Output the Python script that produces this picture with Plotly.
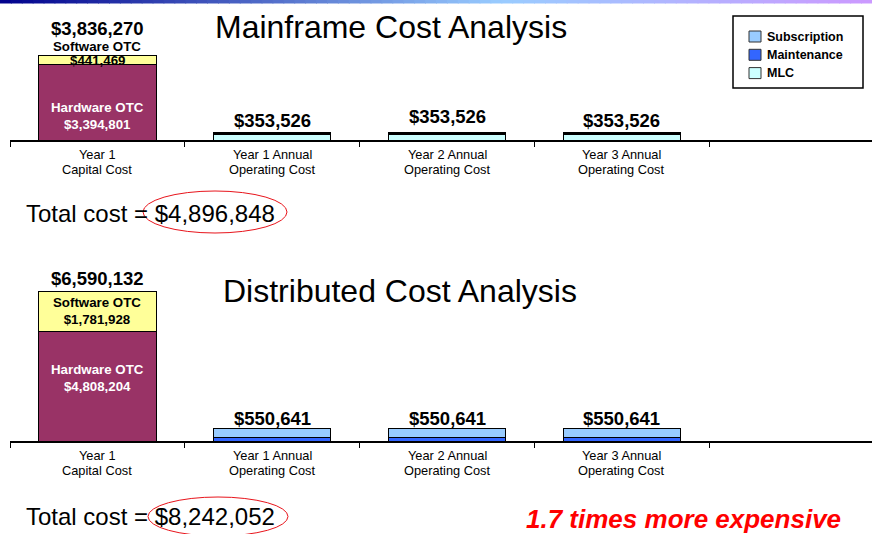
import plotly.graph_objects as go

W, H = 872, 534

# ---------------- data ----------------
categories = ["Year 1<br>Capital Cost", "Year 1 Annual<br>Operating Cost",
              "Year 2 Annual<br>Operating Cost", "Year 3 Annual<br>Operating Cost"]

mf_hardware = [3394801, None, None, None]
mf_software = [441469, None, None, None]
mf_mlc = [None, 240000, 240000, 240000]
mf_maintenance = [None, 55000, 55000, 55000]
mf_subscription = [None, 58526, 58526, 58526]

ds_hardware = [4808204, None, None, None]
ds_software = [1781928, None, None, None]
ds_maintenance = [None, 135000, 135000, 135000]
ds_subscription = [None, 415641, 415641, 415641]

total_costs = [4896848, 8242052]
titles = ["Mainframe Cost Analysis", "Distributed Cost Analysis"]
legend_labels = ["Subscription", "Maintenance", "MLC"]

C_HW = "#993366"
C_SW = "#FFFF99"
C_SUB = "#99CCFF"
C_MAINT = "#3366FF"
C_MLC = "#CCFFFF"
legend_colors = [C_SUB, C_MAINT, C_MLC]

FONT = "Liberation Sans, Arial, sans-serif"


def px(x):
    return x / W


def py(y):
    return 1 - y / H


def fmt(v):
    return "${:,.0f}".format(v)


def vsum(*arrs):
    out = []
    for vals in zip(*arrs):
        s = sum(v for v in vals if v is not None)
        out.append(s if s else None)
    return out


fig = go.Figure()

bar_line = dict(color="black", width=1)
BW = 0.67


def add_bar(y, name, color, xa, ya):
    fig.add_trace(go.Bar(
        x=categories, y=y, name=name, marker=dict(color=color, line=bar_line),
        width=BW, xaxis=xa, yaxis=ya, showlegend=False, hoverinfo="skip"))


# top (mainframe)
add_bar(mf_hardware, "Hardware OTC", C_HW, "x", "y")
add_bar(mf_software, "Software OTC", C_SW, "x", "y")
add_bar(mf_mlc, "MLC", C_MLC, "x", "y")
add_bar(mf_maintenance, "Maintenance", C_MAINT, "x", "y")
add_bar(mf_subscription, "Subscription", C_SUB, "x", "y")

# bottom (distributed)
add_bar(ds_hardware, "Hardware OTC", C_HW, "x2", "y2")
add_bar(ds_software, "Software OTC", C_SW, "x2", "y2")
add_bar(ds_maintenance, "Maintenance", C_MAINT, "x2", "y2")
add_bar(ds_subscription, "Subscription", C_SUB, "x2", "y2")

# axis geometry (pixels)
top_axis_px, top_top_px, top_scale = 140, 30, 85 / 3836270
bot_axis_px, bot_top_px, bot_scale = 441, 271, 150 / 6590132

xaxis_common = dict(
    type="category", range=[-0.5, 4.43], tickson="boundaries",
    ticks="outside", ticklen=5, tickwidth=1, tickcolor="black",
    showline=True, linecolor="black", linewidth=1.5, showgrid=False,
    showticklabels=False, fixedrange=True,
    domain=[px(10), 1],
)
yaxis_common = dict(visible=False, showgrid=False, zeroline=False, fixedrange=True)

fig.update_layout(
    xaxis=dict(xaxis_common, anchor="y"),
    yaxis=dict(yaxis_common, domain=[py(top_axis_px), py(top_top_px)],
               range=[0, (top_axis_px - top_top_px) / top_scale]),
    xaxis2=dict(xaxis_common, anchor="y2"),
    yaxis2=dict(yaxis_common, domain=[py(bot_axis_px), py(bot_top_px)],
                range=[0, (bot_axis_px - bot_top_px) / bot_scale]),
)

ann = []


def a(text, x, y, xref, yref, size, yshift=0, color="black", bold=True, italic=False,
      xanchor="center", yanchor="middle"):
    t = text
    if bold:
        t = "<b>%s</b>" % t
    if italic:
        t = "<i>%s</i>" % t
    ann.append(dict(text=t, x=x, y=y, xref=xref, yref=yref, showarrow=False,
                    yshift=yshift, xanchor=xanchor, yanchor=yanchor,
                    font=dict(family=FONT, size=size, color=color)))


# category labels (two tight lines, as in reference)
for xr, yr in (("x", "y"), ("x2", "y2")):
    for c in categories:
        l1, l2 = c.split("<br>")
        a(l1, c, 0, xr, yr, 12.8, yshift=-14.5, bold=False)
        a(l2, c, 0, xr, yr, 12.8, yshift=-29, bold=False)

BIG = 18.5
MID = 13.3

# mainframe labels
cap = categories[0]
mf_cap_total = mf_hardware[0] + mf_software[0]
a(fmt(mf_cap_total), cap, mf_cap_total, "x", "y", BIG, yshift=27)
a("Software OTC", cap, mf_cap_total, "x", "y", MID, yshift=8.5)
a(fmt(mf_software[0]), cap, mf_cap_total, "x", "y", MID, yshift=-5.5)
a("Hardware OTC<br>" + fmt(mf_hardware[0]), cap, mf_hardware[0], "x", "y", MID,
  yshift=-51, color="white")
mf_ops = vsum(mf_mlc, mf_maintenance, mf_subscription)
shifts = [12, 16, 12]
for i in range(1, 4):
    a(fmt(mf_ops[i]), categories[i], mf_ops[i], "x", "y", BIG, yshift=shifts[i - 1])

# distributed labels
ds_cap_total = ds_hardware[0] + ds_software[0]
a(fmt(ds_cap_total), cap, ds_cap_total, "x2", "y2", BIG, yshift=13)
a("Software OTC<br>" + fmt(ds_software[0]), cap, ds_hardware[0] + ds_software[0] / 2,
  "x2", "y2", MID)
a("Hardware OTC<br>" + fmt(ds_hardware[0]), cap, ds_hardware[0], "x2", "y2", MID,
  yshift=-46, color="white")
ds_ops = vsum(ds_maintenance, ds_subscription)
for i in range(1, 4):
    a(fmt(ds_ops[i]), categories[i], ds_ops[i], "x2", "y2", BIG, yshift=10)

# titles
a(titles[0], px(391), py(27), "paper", "paper", 32, bold=False)
a(titles[1], px(400), py(291), "paper", "paper", 32, bold=False)

# totals
a("Total cost = " + fmt(total_costs[0]), px(24), py(213), "paper", "paper", 24,
  bold=False, xanchor="left")
a("Total cost = " + fmt(total_costs[1]), px(24), py(516), "paper", "paper", 24,
  bold=False, xanchor="left")

ratio = total_costs[1] / total_costs[0]
a("%.1f times more expensive" % ratio, px(683), py(519), "paper", "paper", 26,
  color="#FF0000", bold=True, italic=True)

shapes = []
# ellipses
shapes.append(dict(type="circle", xref="paper", yref="paper", x0=px(143), x1=px(287),
                   y0=py(233), y1=py(191), line=dict(color="#E8141B", width=1)))
shapes.append(dict(type="circle", xref="paper", yref="paper", x0=px(148), x1=px(288),
                   y0=py(536), y1=py(497), line=dict(color="#E8141B", width=1)))

# manual legend box
shapes.append(dict(type="rect", xref="paper", yref="paper", x0=px(733), x1=px(863),
                   y0=py(88), y1=py(16), line=dict(color="black", width=1.5),
                   fillcolor="white"))
for k, (lab, col) in enumerate(zip(legend_labels, legend_colors)):
    yc = 36.5 + 18.3 * k
    shapes.append(dict(type="rect", xref="paper", yref="paper", x0=px(749), x1=px(761),
                       y0=py(yc + 5.5), y1=py(yc - 5.5),
                       line=dict(color="#333333", width=1), fillcolor=col))
    a(lab, px(765), py(yc), "paper", "paper", 12.5, xanchor="left")


# top gradient strip
def lerp(c1, c2, t):
    return tuple(round(c1[k] + (c2[k] - c1[k]) * t) for k in range(3))


c_left, c_mid, c_right = (0, 0, 140), (153, 204, 255), (204, 153, 255)
N = 80
for i in range(N):
    x0 = W * i / N
    x1 = W * (i + 1) / N
    xc = (x0 + x1) / 2
    if xc < 500:
        c = lerp(c_left, c_mid, xc / 500)
    else:
        c = lerp(c_mid, c_right, (xc - 500) / (W - 500))
    shapes.append(dict(type="rect", xref="paper", yref="paper", x0=px(x0), x1=px(x1) + 0.001,
                       y0=py(3.5), y1=1, line=dict(width=0),
                       fillcolor="rgb(%d,%d,%d)" % c, layer="above"))

fig.update_layout(
    width=W, height=H, margin=dict(l=0, r=0, t=0, b=0),
    paper_bgcolor="white", plot_bgcolor="white",
    barmode="stack", bargap=0.33,
    font=dict(family=FONT, color="black"),
    annotations=ann, shapes=shapes, showlegend=False,
)

fig.write_html("out.html", config={"displayModeBar": False},
               post_script="document.body.style.margin='0';document.body.style.padding='0';"
                           "document.body.style.overflow='hidden';")
